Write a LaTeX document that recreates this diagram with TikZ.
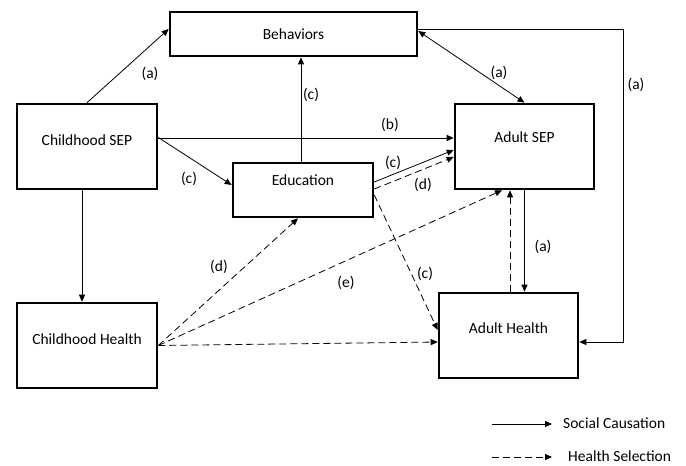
\documentclass[tikz,border=0pt]{standalone}
\usepackage{fontspec}
\setmainfont{Carlito}
\usetikzlibrary{arrows.meta,calc}
\begin{document}
\begin{tikzpicture}[x=1pt,y=-1pt,
  every node/.style={font=\fontsize{15.5}{18}\selectfont},
  box/.style={draw, line width=2.6pt, inner sep=0pt, text height=10pt},
  sc/.style={line width=0.8pt, -{Triangle[length=7pt,width=6pt]}},
  sc2/.style={line width=0.8pt, {Triangle[length=7pt,width=6pt]}-{Triangle[length=7pt,width=6pt]}},
  hs/.style={sc, dash pattern=on 7pt off 4pt},
  lab/.style={inner sep=0pt}]
\useasboundingbox (0,0) rectangle (686,466);
% boxes
\node[box, minimum width=247pt, minimum height=44pt, text depth=0pt] (beh) at (293.5,34) {Behaviors};
\node[box, minimum width=140pt, minimum height=85pt, text depth=13pt] (csep) at (87,146.5) {Childhood SEP};
\node[box, minimum width=140pt, minimum height=54pt, text depth=20pt] (edu) at (303,190) {Education};
\node[box, minimum width=139pt, minimum height=85pt, text depth=19pt] (asep) at (524.5,146.5) {Adult SEP};
\node[box, minimum width=139pt, minimum height=85pt, text depth=15pt] (ah) at (508.5,335.5) {Adult Health};
\node[box, minimum width=140pt, minimum height=85pt, text depth=13pt] (ch) at (87,345.5) {Childhood Health};
\coordinate (rc) at (623,342);
% social causation
\draw[sc] (csep.north) -- ([yshift=5pt]beh.west);
\draw[sc2] ([yshift=3pt]beh.east) -- (asep.north);
\draw[sc] ([yshift=5pt]beh.east) -| (rc) -- ([yshift=-6.5pt]ah.east);
\draw[sc] ([yshift=8.5pt]csep.east) -- ([yshift=8.5pt]asep.west);
\draw[sc] ([yshift=9pt]csep.east) -- ([yshift=5pt]edu.west);
\draw[sc] ([xshift=-2pt]edu.north) -- ([xshift=-2pt]edu.north |- beh.south);
\draw[sc] ([yshift=8pt]edu.east) -- ([yshift=-3.5pt]asep.west);
\draw[sc] (asep.south) -- (asep.south |- ah.north);
\draw[sc] ([xshift=-5pt]csep.south) -- ([xshift=-5pt]csep.south |- ch.north);
% health selection
\draw[hs] ([yshift=1pt]edu.east) -- ([yshift=-10.5pt]asep.west);
\draw[hs] ([yshift=-5pt]edu.east) -- ([yshift=5.5pt]ah.west);
\draw[hs] (ch.east) -- ([xshift=-5pt]edu.south);
\draw[hs] (ch.east) -- ([xshift=-22.5pt]asep.south);
\draw[hs] (ch.east) -- ([yshift=-6.5pt]ah.west);
\draw[hs] ([xshift=1.5pt]ah.north) -- ([xshift=1.5pt]ah.north |- asep.south);
% labels
\node[lab] (la1) at (150,74) {(a)};
\node[lab] (la2) at (499,73) {(a)};
\node[lab] (la3) at (636,85) {(a)};
\node[lab] (lb) at (390,125) {(b)};
\node[lab] (lc1) at (189,179) {(c)};
\node[lab] (lc2) at (311,95) {(c)};
\node[lab] (lc3) at (393,163) {(c)};
\node[lab] (ld1) at (423,185) {(d)};
\node[lab] (lc4) at (425,274) {(c)};
\node[lab] (ld2) at (219,267) {(d)};
\node[lab] (le) at (346,283) {(e)};
\node[lab] (la4) at (543,247) {(a)};
% legend
\coordinate (l1a) at (492,424);
\coordinate (l1b) at (552,424);
\coordinate (l2a) at (492,457);
\coordinate (l2b) at (552,457);
\draw[sc] (l1a) -- (l1b);
\draw[hs] (l2a) -- (l2b);
\node[lab, anchor=west] (t1) at (563,423) {Social Causation};
\node[lab, anchor=west] (t2) at (568,456) {Health Selection};
\end{tikzpicture}
\end{document}
